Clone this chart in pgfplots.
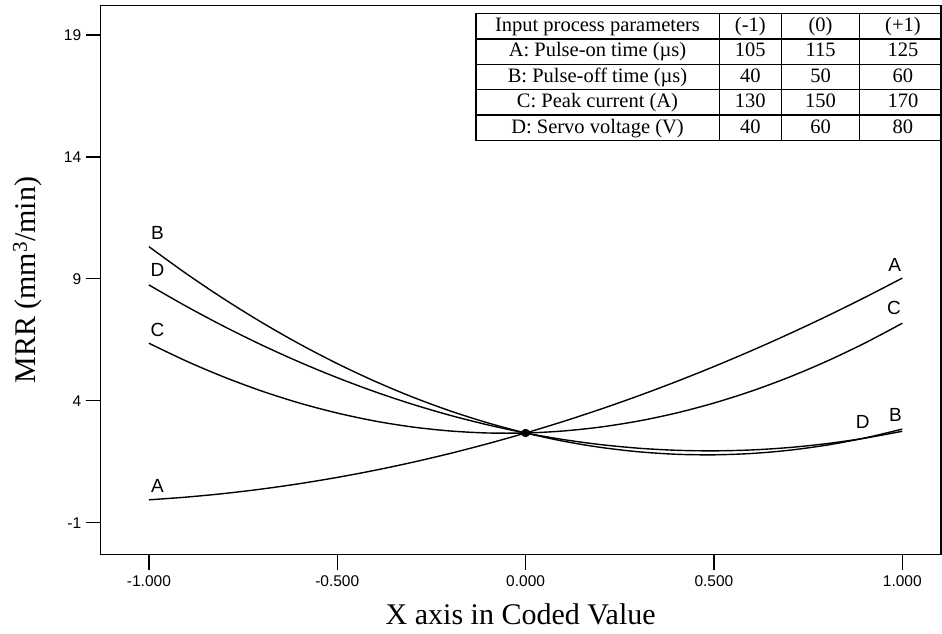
\documentclass[border=0pt]{standalone}
\usepackage{pgfplots}
\pgfplotsset{compat=1.18}
\usepackage{array}
\usepackage{fontspec}
\setmainfont{Liberation Serif}
\newfontfamily\arial{Liberation Sans}
\begin{document}
\begin{tikzpicture}
\begin{axis}[
  at={(0,0)}, anchor=south west,
  scale only axis, width=840pt, height=549pt,
  xmin=-1.128, xmax=1.102, ymin=-2.31, ymax=20.2,
  axis line style={line width=1.6pt},
  xtick={-1,-0.5,0,0.5,1},
  xticklabels={-1.000,-0.500,0.000,0.500,1.000},
  ytick={-1,4,9,14,19},
  yticklabels={-1,4,9,14,19},
  xtick pos=bottom, ytick pos=left,
  tick align=outside, major tick length=15pt,
  tick style={line width=1.2pt, black},
  ticklabel style={font=\arial\fontsize{15.5}{17}\selectfont},
  xticklabel style={yshift=-2pt},
  yticklabel style={xshift=-1pt},
  every axis x label/.style={at={(axis description cs:0.5,0)}, anchor=center, yshift=-60pt},
  every axis y label/.style={at={(axis description cs:0,0.5)}, anchor=center, rotate=90, yshift=73pt},
  xlabel={\fontsize{30}{33}\selectfont X axis in Coded Value},
  ylabel={\fontsize{30}{33}\selectfont MRR (mm\textsuperscript{3}/min)},
  clip=false,
]
% A
\addplot[black, line width=1.4pt, smooth] coordinates {
(-1,-0.06) (-0.9,0.052) (-0.8,0.199) (-0.7,0.383) (-0.6,0.603) (-0.5,0.859) (-0.4,1.151) (-0.3,1.479) (-0.2,1.843) (-0.1,2.244) (0,2.68)
(0.1,3.153) (0.2,3.661) (0.3,4.206) (0.4,4.787) (0.5,5.404) (0.6,6.057) (0.7,6.746) (0.8,7.471) (0.9,8.233) (1,9.03)};
% B
\addplot[black, line width=1.4pt, smooth] coordinates {
(-1,10.32) (-0.9,9.205) (-0.8,8.168) (-0.7,7.209) (-0.6,6.328) (-0.5,5.525) (-0.4,4.800) (-0.3,4.153) (-0.2,3.584) (-0.1,3.093) (0,2.68)
(0.1,2.345) (0.2,2.088) (0.3,1.909) (0.4,1.808) (0.5,1.785) (0.6,1.840) (0.7,1.973) (0.8,2.184) (0.9,2.473) (1,2.84)};
% C
\addplot[black, line width=1.4pt, smooth] coordinates {
(-1,6.36) (-0.9,5.624) (-0.8,4.970) (-0.7,4.397) (-0.6,3.906) (-0.5,3.498) (-0.4,3.170) (-0.3,2.925) (-0.2,2.762) (-0.1,2.680) (0,2.68)
(0.1,2.762) (0.2,2.926) (0.3,3.171) (0.4,3.498) (0.5,3.908) (0.6,4.398) (0.7,4.971) (0.8,5.626) (0.9,6.362) (1,7.18)};
% D
\addplot[black, line width=1.4pt, smooth] coordinates {
(-1,8.75) (-0.9,7.867) (-0.8,7.045) (-0.7,6.284) (-0.6,5.585) (-0.5,4.948) (-0.4,4.371) (-0.3,3.856) (-0.2,3.403) (-0.1,3.011) (0,2.68)
(0.1,2.411) (0.2,2.203) (0.3,2.056) (0.4,1.971) (0.5,1.948) (0.6,1.985) (0.7,2.084) (0.8,2.245) (0.9,2.467) (1,2.75)};
% centre point
\addplot[only marks, mark=*, mark size=4pt, black] coordinates {(0,2.68)};
% curve labels
\begin{scope}[every node/.style={font=\arial\fontsize{19}{21}\selectfont, inner sep=0pt}]
\node at (axis cs:-0.977,10.87) {B};
\node at (axis cs:-0.977,9.37) {D};
\node at (axis cs:-0.977,6.91) {C};
\node at (axis cs:-0.977,0.49) {A};
\node at (axis cs:0.98,9.57) {A};
\node at (axis cs:0.978,7.80) {C};
\node at (axis cs:0.895,3.15) {D};
\node at (axis cs:0.982,3.43) {B};
\end{scope}
\end{axis}
% parameter table
\setlength\arrayrulewidth{1.3pt}
\setlength\tabcolsep{0pt}
\def\rs{\rule[-6.8pt]{0pt}{24.1pt}}
\node[anchor=north west, inner sep=0pt, font=\fontsize{20.5}{22}\selectfont] at (374.3pt,542pt) {%
\begin{tabular}{|>{\centering\arraybackslash}p{242pt}|>{\centering\arraybackslash}p{61pt}|>{\centering\arraybackslash}p{77pt}|>{\centering\arraybackslash}p{85pt}|}
\hline
\rs Input process parameters & (-1) & (0) & (+1)\\ \hline
\rs A: Pulse-on time (\textmu s) & 105 & 115 & 125\\ \hline
\rs B: Pulse-off time (\textmu s) & 40 & 50 & 60\\ \hline
\rs C: Peak current (A) & 130 & 150 & 170\\ \hline
\rs D: Servo voltage (V) & 40 & 60 & 80\\ \hline
\end{tabular}};
\pgfresetboundingbox
\path[use as bounding box] (-100.7pt,-79pt) rectangle (841.3pt,554.7pt);
\end{tikzpicture}
\end{document}
